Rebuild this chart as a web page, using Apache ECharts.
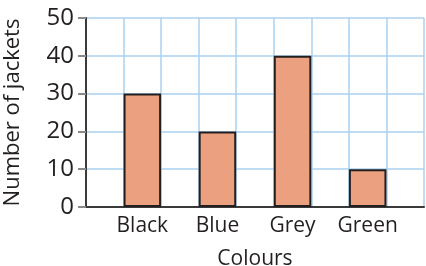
<!DOCTYPE html>
<html>
<head>
<meta charset="utf-8">
<script src="https://cdn.jsdelivr.net/npm/echarts@6/dist/echarts.min.js"></script>
<style>
  html, body { margin: 0; padding: 0; background: #fff; }
  #chart { width: 426px; height: 266px; }
</style>
</head>
<body>
<div id="chart"></div>
<script>
const categories = ['Black', 'Blue', 'Grey', 'Green'];
const jackets = [30, 20, 40, 10];
const yTicks = [0, 10, 20, 30, 40, 50];

// the paper grid has a blank column between every bar
const slots = [''];
const slotValues = ['-'];
categories.forEach((c, i) => {
  slots.push(c, '');
  slotValues.push(jackets[i], '-');
});

const ink = '#231f20';
const gridBlue = '#a9d1f0';
const font = 'Open Sans';

const chart = echarts.init(document.getElementById('chart'));

chart.setOption({
  animation: false,
  grid: { left: 86, right: 2, top: 18, bottom: 59, containLabel: false, outerBoundsMode: 'none' },
  xAxis: {
    type: 'category',
    data: slots,
    name: 'Colours',
    nameLocation: 'middle',
    nameGap: 42,
    nameTextStyle: { color: ink, fontSize: 21, fontFamily: font },
    axisLine: { lineStyle: { color: '#3a3a3a', width: 2 } },
    axisTick: { show: false },
    axisLabel: { interval: 0, color: ink, fontSize: 21, fontFamily: font, margin: 9 },
    splitLine: { show: true, interval: 0, lineStyle: { color: gridBlue, width: 1.5 } }
  },
  yAxis: {
    type: 'value',
    min: yTicks[0],
    max: yTicks[yTicks.length - 1],
    interval: 10,
    name: 'Number of jackets',
    nameLocation: 'middle',
    nameGap: 62,
    nameTextStyle: { color: ink, fontSize: 22, fontFamily: font },
    axisLine: { show: true, lineStyle: { color: '#3a3a3a', width: 2 } },
    axisTick: { show: true, length: 8, lineStyle: { color: '#8a8a8a', width: 2 } },
    axisLabel: { color: ink, fontSize: 24, fontFamily: font, margin: 12 },
    splitLine: { show: true, lineStyle: { color: gridBlue, width: 1.5 } }
  },
  series: [{
    type: 'bar',
    data: slotValues,
    barWidth: '100%',
    itemStyle: { color: '#eba07f', borderColor: ink, borderWidth: 2 }
  }]
});
</script>
</body>
</html>
